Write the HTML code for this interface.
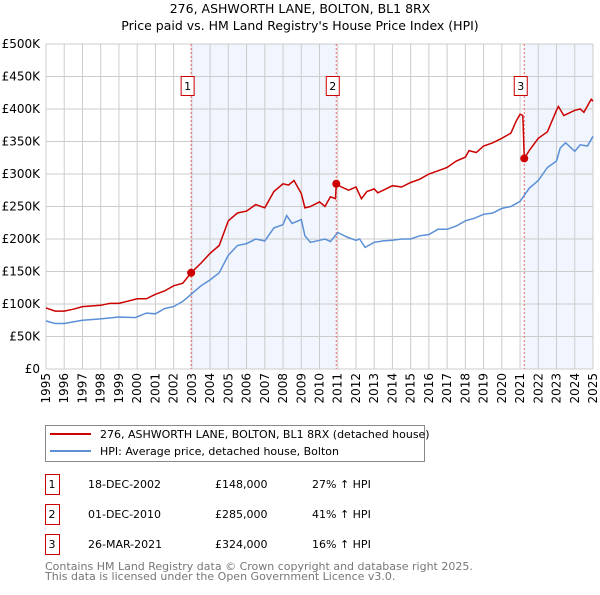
<!DOCTYPE html>
<html><head><meta charset="utf-8"><style>
body{margin:0;background:#fff;font-family:"Liberation Sans","DejaVu Sans",sans-serif}
svg text{font-family:"DejaVu Sans","Liberation Sans",sans-serif}
</style></head><body>
<svg id="c" width="600" height="590" xmlns="http://www.w3.org/2000/svg">
<text x="300" y="13" text-anchor="middle" font-size="12.5">276, ASHWORTH LANE, BOLTON, BL1 8RX</text>
<text x="300" y="30" text-anchor="middle" font-size="12.5">Price paid vs. HM Land Registry's House Price Index (HPI)</text>
<g id="plot"></g>
<g>
<rect x="45.5" y="425.5" width="379" height="36" fill="#fff" stroke="#888"/>
<line x1="50" y1="434" x2="91" y2="434" stroke="#cc0000" stroke-width="2"/>
<text x="100" y="438" font-size="11">276, ASHWORTH LANE, BOLTON, BL1 8RX (detached house)</text>
<line x1="50" y1="451" x2="91" y2="451" stroke="#5b8fd6" stroke-width="2"/>
<text x="100" y="455" font-size="11">HPI: Average price, detached house, Bolton</text>
</g>
<g id="table" font-size="11"></g>
<text x="45" y="570" font-size="11" fill="#777">Contains HM Land Registry data © Crown copyright and database right 2025.</text>
<text x="45" y="580" font-size="11" fill="#777">This data is licensed under the Open Government Licence v3.0.</text>
</svg>
<script>
const hpiYears=[1995,1995.5,1996,1997,1998,1999,1999.9,2000.5,2001,2001.5,2002,2002.5,2003,2003.5,2004,2004.5,2005,2005.5,2006,2006.5,2007,2007.5,2008,2008.2,2008.5,2009,2009.2,2009.5,2010,2010.3,2010.6,2011,2011.5,2012,2012.2,2012.5,2013,2013.5,2014,2014.5,2015,2015.5,2016,2016.5,2017,2017.5,2018,2018.5,2019,2019.5,2020,2020.5,2021,2021.5,2022,2022.5,2023,2023.2,2023.5,2024,2024.3,2024.7,2025];
const hpiValues=[74,70,70,75,77,80,79,86,85,93,96,104,116,128,137,148,175,190,193,200,197,217,222,236,224,230,205,195,198,200,196,210,203,198,200,187,195,197,198,200,200,205,207,215,215,220,228,232,238,240,247,250,258,278,290,310,320,340,348,335,345,343,358,360];
const priceYears=[1995,1995.5,1996,1996.5,1997,1998,1998.5,1999,2000,2000.5,2001,2001.5,2002,2002.5,2002.96,2003.5,2004,2004.5,2005,2005.5,2006,2006.5,2007,2007.5,2008,2008.3,2008.6,2009,2009.2,2009.5,2010,2010.3,2010.6,2010.88,2010.92,2011.2,2011.6,2012,2012.3,2012.6,2013,2013.2,2013.5,2014,2014.5,2015,2015.5,2016,2016.5,2017,2017.5,2018,2018.2,2018.6,2019,2019.5,2020,2020.5,2020.8,2021,2021.15,2021.23,2021.5,2022,2022.5,2023,2023.1,2023.4,2024,2024.3,2024.5,2024.9,2025];
const priceVals=[94,89,89,92,96,98,101,101,108,108,115,120,128,132,148,163,178,190,228,240,243,253,248,273,285,283,290,270,248,250,257,250,265,262,285,280,275,280,262,273,277,271,275,282,280,287,292,300,305,310,320,326,336,333,343,348,355,363,382,392,390,324,336,355,365,398,404,390,398,400,395,415,412];
const saleYears=[2002.96,2010.92,2021.23];
const saleVals=[148,285,324];
const saleDates=["18-DEC-2002","01-DEC-2010","26-MAR-2021"];
const salePrices=["£148,000","£285,000","£324,000"];
const saleHpi=["27% ↑ HPI","41% ↑ HPI","16% ↑ HPI"];
const yTicks=[0,50,100,150,200,250,300,350,400,450,500];
const yTickLabels=["£0","£50K","£100K","£150K","£200K","£250K","£300K","£350K","£400K","£450K","£500K"];
const xTicks=[1995,1996,1997,1998,1999,2000,2001,2002,2003,2004,2005,2006,2007,2008,2009,2010,2011,2012,2013,2014,2015,2016,2017,2018,2019,2020,2021,2022,2023,2024,2025];

const L=46,R=593,T=44,B=369;
const sx=y=>L+(y-1995)/30*(R-L);
const sy=v=>B-v/500*(B-T);
const NS='http://www.w3.org/2000/svg';
const plot=document.getElementById('plot');
function mk(tag,attrs,parent){const e=document.createElementNS(NS,tag);for(const k in attrs)e.setAttribute(k,attrs[k]);(parent||plot).appendChild(e);return e;}
[[saleYears[0],saleYears[1]],[saleYears[2],2025]].forEach((s,i)=>{
 const r=mk('rect',{x:sx(s[0]),y:T,width:sx(s[1])-sx(s[0]),height:B-T,fill:'#eef3fc',opacity:0.8});
 
 
});
xTicks.forEach((t,i)=>{
 const l=mk('line',{x1:sx(t),x2:sx(t),y1:T,y2:B,stroke:'#ccc','stroke-width':1});
 
 
 const tx=mk('text',{x:0,y:0,'font-size':12,'text-anchor':'end',transform:`translate(${sx(t)+4},${B+4}) rotate(-90)`});
 tx.textContent=t;
 
 
});
yTicks.forEach((t,i)=>{
 const l=mk('line',{x1:L,x2:R,y1:sy(t),y2:sy(t),stroke:'#ccc','stroke-width':1});
 
 
 const tx=mk('text',{x:L-6,y:sy(t)+4,'font-size':12,'text-anchor':'end'});
 tx.textContent=yTickLabels[i];
 
 
});
saleYears.forEach((y,i)=>{
 const l=mk('line',{x1:sx(y),x2:sx(y),y1:T,y2:B,stroke:'#e66','stroke-width':1,'stroke-dasharray':'2,2'});
 
 
 const g=mk('g',{});
 
 
 mk('rect',{x:sx(y)-10,y:76.5,width:13,height:19,fill:'#fff',stroke:'#cc0000'},g);
 const t=mk('text',{x:sx(y)-3.5,y:90,'font-size':11,'text-anchor':'middle'},g);t.textContent=i+1;
});
function line(xs,vs,col,name){
 const p=mk('path',{d:xs.map((x,i)=>(i?'L':'M')+sx(x).toFixed(1)+','+sy(vs[i]).toFixed(1)).join(''),fill:'none',stroke:col,'stroke-width':1.5});
 
 
}
line(hpiYears,hpiValues,'#5b8fd6','hpi-line');
line(priceYears,priceVals,'#cc0000','price-line');
saleYears.forEach((y,i)=>{
 const c=mk('circle',{cx:sx(y),cy:sy(saleVals[i]),r:4,fill:'#cc0000'});
 
 
});
const tb=document.getElementById('table');
saleYears.forEach((y,i)=>{
 const yy=482+i*30;
 const g=mk('g',{},tb);
 
 
 mk('rect',{x:45.5,y:yy-7.5,width:14,height:20,fill:'#fff',stroke:'#cc0000'},g);
 const c=[[52,i+1,'middle'],[88,saleDates[i],'start'],[215,salePrices[i],'start'],[312,saleHpi[i],'start']];
 c.forEach(a=>{const t=mk('text',{x:a[0],y:yy+6,'text-anchor':a[2]},g);t.textContent=a[1];});
});
</script>
</body></html>
